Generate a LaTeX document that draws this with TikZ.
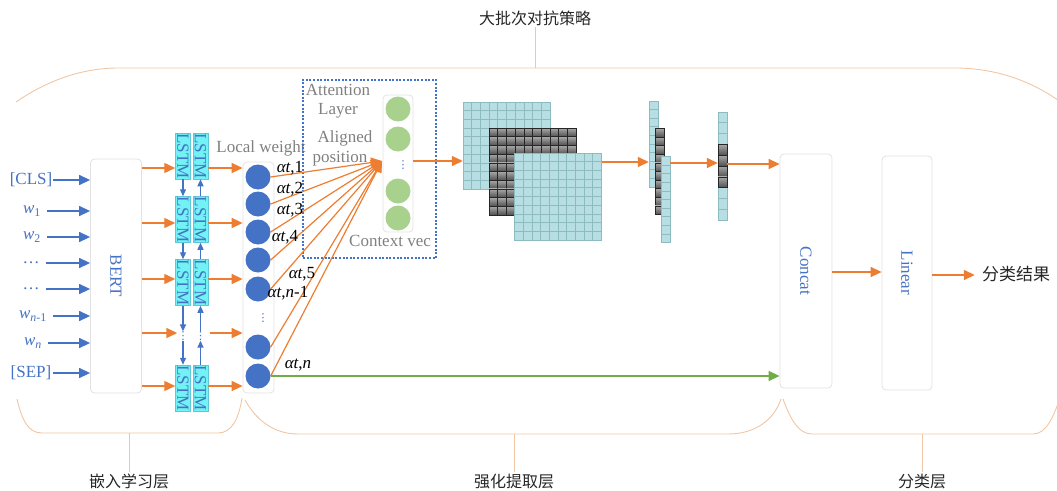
\documentclass[tikz,border=0pt]{standalone}
\usepackage{fontspec}
\setmainfont{Liberation Serif}
\newfontfamily\cjk{Noto Sans CJK SC}
\newfontfamily\dejavu{DejaVu Sans}
\usetikzlibrary{arrows.meta}
\definecolor{oran}{HTML}{ED7D31}
\definecolor{blu}{HTML}{4472C4}
\definecolor{grn}{HTML}{70AD47}
\definecolor{lgrn}{HTML}{A9D18E}
\definecolor{brace}{HTML}{F0C6A4}
\definecolor{boxln}{HTML}{E2E2E2}
\definecolor{gtxt}{HTML}{808080}
\definecolor{cyn}{HTML}{72F2F5}
\definecolor{cynln}{HTML}{5FC8D6}
\definecolor{tealf}{HTML}{B7DEE2}
\definecolor{teall}{HTML}{8EBBC0}
\definecolor{dk1}{HTML}{A8A8A8}
\definecolor{dk2}{HTML}{505050}
\definecolor{dkl}{HTML}{262626}
\begin{document}
\begin{tikzpicture}[x=1pt,y=-1pt,
  font=\fontsize{17}{20}\selectfont,
  oarr/.style={draw=oran, line width=1.4pt, -{Triangle[length=11pt,width=10pt]}},
  barr/.style={draw=blu, line width=1.4pt, -{Triangle[length=11pt,width=10pt]}},
  sarr/.style={draw=blu, line width=1.3pt, -{Triangle[length=7pt,width=6pt]}},
  garr/.style={draw=grn, line width=1.4pt, -{Triangle[length=11pt,width=10pt]}},
  rbox/.style={draw=boxln, line width=0.8pt, rounded corners=4pt, fill=white, inner sep=0pt},
  lstmbox/.style={draw=cynln, line width=0.5pt, fill=cyn, inner sep=0pt, minimum width=15, minimum height=46, text=blu},
  inlab/.style={text=blu, inner sep=1pt},
  bdot/.style={circle, fill=blu, minimum size=25, inner sep=0pt},
  gdot/.style={circle, fill=lgrn, minimum size=25, inner sep=0pt},
  gray label/.style={text=gtxt, inner sep=0pt},
  alab/.style={text=black, inner sep=0pt},
  brc/.style={draw=brace, line width=0.9pt},
  cjklab/.style={font=\cjk\fontsize{16}{18}\selectfont, text=black!85, inner sep=1pt},
  vd/.style={font=\dejavu\fontsize{11}{11}\selectfont, text=blu, inner sep=0pt}
]
\useasboundingbox (0,0) rectangle (1057,490);

% ---------- braces ----------
\node[cjklab] (top) at (535,18) {大批次对抗策略};
\coordinate (tb) at (535,68);
\draw[brc] (16,102) .. controls (45,82) and (80,68) .. (118,68) -- (958,68) .. controls (1005,69) and (1040,86) .. (1066,106);
\draw[brc] (top.south) -- (tb);

\draw[brc] (17,399) .. controls (22,420) and (28,433) .. (42,433) -- (218,433) .. controls (232,433) and (239,418) .. (242,398);
\draw[brc] (245,400) .. controls (255,418) and (272,434) .. (298,434) -- (728,434) .. controls (755,434) and (774,420) .. (781,399);
\draw[brc] (783,399) .. controls (790,418) and (798,434) .. (812,434) -- (1033,434) .. controls (1046,434) and (1053,418) .. (1060,398);
\node[cjklab] (l1) at (129,481) {嵌入学习层};
\node[cjklab] (l2) at (514,481) {强化提取层};
\node[cjklab] (l3) at (922,481) {分类层};
\coordinate (b1) at (129,433);
\coordinate (b2) at (514,434);
\coordinate (b3) at (922,434);
\draw[brc] (b1) -- (l1.north);
\draw[brc] (b2) -- (l2.north);
\draw[brc] (b3) -- (l3.north);

% ---------- inputs and BERT ----------
\node[rbox, minimum width=51, minimum height=234] (bert) at (116,276) {};
\node[text=blu] at (bert.center) {\rotatebox{-90}{BERT}};

\node[inlab] (cls) at (31,180) {[CLS]};
\node[inlab] (w1) at (32,211) {\textit{w}\textsubscript{1}};
\node[inlab] (w2) at (32,237) {\textit{w}\textsubscript{2}};
\node[inlab] (d1) at (31,263) {…};
\node[inlab] (d2) at (31,289) {…};
\node[inlab] (wn1) at (33,316) {\textit{w}\textsubscript{\textit{n}-1}};
\node[inlab] (wn) at (33,343) {\textit{w}\textsubscript{\textit{n}}};
\node[inlab] (sep) at (31,373) {[SEP]};
\draw[barr] (cls.east) -- (cls.east -| bert.west);
\foreach \n in {w1,w2,d1,d2,wn1,wn}{
  \draw[barr] ([xshift=5pt]\n.east) -- (\n.east -| bert.west);
}
\draw[barr] (sep.east) -- (sep.east -| bert.west);

% ---------- LSTM ----------
\foreach \k/\yy in {1/156,2/219.5,3/282.5,4/388}{
  \node[lstmbox] (lL\k) at (183,\yy) {\rotatebox{-90}{LSTM}};
  \node[lstmbox] (lR\k) at (200.5,\yy) {\rotatebox{-90}{LSTM}};
}
\node[vd] (dL) at (183,336) {⋮};
\node[vd] (dR) at (200.5,336) {⋮};
\draw[sarr] (lL1.south) -- (lL2.north);
\draw[sarr] (lL2.south) -- (lL3.north);
\draw[sarr] (lL3.south) -- (dL.north);
\draw[sarr] (dL.south) -- (lL4.north);
\draw[sarr] (lR2.north) -- (lR1.south);
\draw[sarr] (lR3.north) -- (lR2.south);
\draw[sarr] (dR.north) -- (lR3.south);
\draw[sarr] (lR4.north) -- (dR.south);

\coordinate (r1) at (0,168);
\coordinate (r2) at (0,223);
\coordinate (r3) at (0,279);
\coordinate (r4) at (0,333);
\coordinate (r5) at (0,386);

% ---------- local weight ----------
\node[rbox, minimum width=31, minimum height=231] (lw) at (258.5,277.5) {};
\node[gray label] (lwt) at (261,148) {Local weight};
\foreach \k/\yy in {1/177,2/204,3/232,4/260,5/289,6/347,7/376}{
  \node[bdot] (c\k) at (258,\yy) {};
}
\node[vd] (cdots) at (263,318) {⋮};

\draw[oarr] (bert.east |- r1) -- (lL1.west |- r1);
\draw[oarr] (bert.east |- r2) -- (lL2.west |- r2);
\draw[oarr] (bert.east |- r3) -- (lL3.west |- r3);
\draw[oarr] (bert.east |- r4) -- (dL.west |- r4);
\draw[oarr] (bert.east |- r5) -- (lL4.west |- r5);
\draw[oarr] (lR1.east |- r1) -- (lw.west |- r1);
\draw[oarr] (lR2.east |- r2) -- (lw.west |- r2);
\draw[oarr] (lR3.east |- r3) -- (lw.west |- r3);
\draw[oarr] ([xshift=4pt]dR.east |- r4) -- (lw.west |- r4);
\draw[oarr] (lR4.east |- r5) -- (lw.west |- r5);

% ---------- attention ----------
\node[draw=blu, line width=1.1pt, dash pattern=on 2pt off 1.6pt, minimum width=133, minimum height=178, inner sep=0pt] (att) at (369.5,169) {};
\node[gray label] (at1) at (338,90) {Attention};
\node[gray label] (at2) at (338,111) {Layer};
\node[gray label] (at3) at (345,138) {Aligned};
\node[gray label] (at4) at (340,159) {position};
\node[gray label] (ctx) at (390,241) {Context vec};
\node[rbox, minimum width=30, minimum height=137] (gv) at (398,163.5) {};
\foreach \k/\yy in {1/109,2/139,3/191,4/218}{
  \node[gdot] (g\k) at (398,\yy) {};
}
\node[vd] (gdots) at (403,165) {⋮};
\coordinate (conv) at (382,161);
\foreach \k in {1,...,7}{
  \draw[oarr, line width=1.2pt] (c\k.east) -- (conv);
}
\node[alab] (a1) at (290,168) {\textit{αt},1};
\node[alab] (a2) at (290,189) {\textit{αt},2};
\node[alab] (a3) at (290,210) {\textit{αt},3};
\node[alab] (a4) at (285,237) {\textit{αt},4};
\node[alab] (a5) at (302,274) {\textit{αt},5};
\node[alab] (a6) at (288,293) {\textit{αt},\textit{n}-1};
\node[alab] (a7) at (298,365) {\textit{αt},\textit{n}};

% ---------- feature maps ----------
\node[inner sep=0pt, minimum size=87] (m1) at (506.5,145) {};
\node[inner sep=0pt, minimum size=87] (m2) at (532.5,171) {};
\node[inner sep=0pt, minimum size=87] (m3) at (558,196.5) {};
\filldraw[fill=tealf, draw=teall, line width=0.8pt] (463,102) rectangle (550,189);
\foreach \k in {1,...,9}{
  \draw[teall, line width=0.8pt] (463+\k*8.7,102) -- (463+\k*8.7,189);
  \draw[teall, line width=0.8pt] (463,102+\k*8.7) -- (550,102+\k*8.7);
}
\foreach \i in {0,...,9}{\foreach \j in {0,...,9}{
  \shadedraw[top color=dk1, bottom color=dk2, draw=dkl, line width=0.6pt] (489+\i*8.7,128+\j*8.7) rectangle ++(8.7,8.7);
}}
\filldraw[fill=tealf, draw=teall, line width=0.8pt] (514.5,153) rectangle (601.5,240);
\foreach \k in {1,...,9}{
  \draw[teall, line width=0.8pt] (514.5+\k*8.7,153) -- (514.5+\k*8.7,240);
  \draw[teall, line width=0.8pt] (514.5,153+\k*8.7) -- (601.5,153+\k*8.7);
}

% vectors
\node[inner sep=0pt, minimum width=9, minimum height=86] (v1) at (653.5,144) {};
\node[inner sep=0pt, minimum width=9, minimum height=86] (v2) at (659.5,171.5) {};
\node[inner sep=0pt, minimum width=9, minimum height=86] (v3) at (665.5,199.5) {};
\node[inner sep=0pt, minimum width=9, minimum height=108] (v4) at (722.5,166) {};
\foreach \j in {0,...,9}{
  \filldraw[fill=tealf, draw=teall, line width=0.7pt] (649,101+\j*8.6) rectangle ++(9,8.6);
}
\foreach \j in {0,...,9}{
  \shadedraw[top color=dk1, bottom color=dk2, draw=dkl, line width=0.6pt] (655,128.5+\j*8.6) rectangle ++(9,8.6);
}
\foreach \j in {0,...,9}{
  \filldraw[fill=tealf, draw=teall, line width=0.7pt] (661,156.5+\j*8.6) rectangle ++(9,8.6);
}
\foreach \j in {0,1,2,7,8,9}{
  \filldraw[fill=tealf, draw=teall, line width=0.7pt] (718,112+\j*10.8) rectangle ++(9,10.8);
}
\foreach \j in {3,...,6}{
  \shadedraw[top color=dk1, bottom color=dk2, draw=dkl, line width=0.6pt] (718,112+\j*10.8) rectangle ++(9,10.8);
}

% ---------- classification ----------
\node[rbox, minimum width=52, minimum height=234] (concat) at (806,271) {};
\node[text=blu] at (concat.center) {\rotatebox{-90}{Concat}};
\node[rbox, minimum width=50, minimum height=234] (linear) at (907,273) {};
\node[text=blu] at (linear.center) {\rotatebox{-90}{Linear}};
\node[cjklab, font=\cjk\fontsize{17}{19}\selectfont] (res) at (1016,274) {分类结果};

\coordinate (ry1) at (0,161);
\coordinate (ry2) at (0,162);
\coordinate (ry3) at (0,163);
\coordinate (ry4) at (0,164);
\draw[oarr] (gv.east |- ry1) -- (m1.west |- ry1);
\draw[oarr] (m3.east |- ry2) -- (v1.west |- ry2);
\draw[oarr] (v3.east |- ry3) -- (v4.west |- ry3);
\draw[oarr] (v4.east |- ry4) -- (concat.west |- ry4);
\coordinate (ry5) at (0,272);
\coordinate (ry6) at (0,275);
\draw[oarr] (concat.east |- ry5) -- (linear.west |- ry5);
\draw[oarr] (linear.east |- ry6) -- ([xshift=-6pt]res.west |- ry6);
\draw[garr] (c7.east) -- (concat.west |- c7.east);
\end{tikzpicture}
\end{document}
